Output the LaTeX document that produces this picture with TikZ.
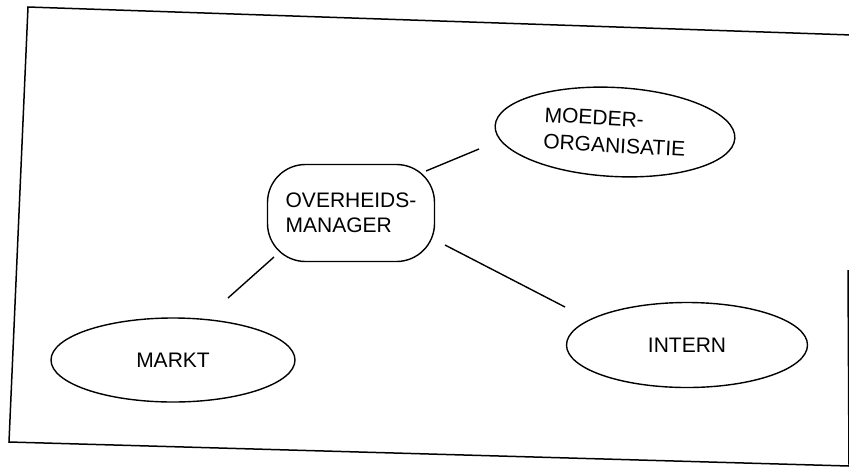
\documentclass[tikz,border=0pt]{standalone}
\usepackage{fontspec}
\setmainfont{Liberation Sans}
\usetikzlibrary{shapes.geometric}
\begin{document}
\begin{tikzpicture}[x=1pt,y=-1pt,
  line width=1.4pt,
  oval/.style={draw, ellipse, inner sep=0pt, align=left,
    font=\fontsize{21}{27}\selectfont},
  roundbox/.style={draw, rounded corners=38pt, inner sep=0pt, align=left,
    minimum width=167pt, minimum height=97pt,
    font=\fontsize{21}{25}\selectfont},
  frameline/.style={line width=1.5pt},
  link/.style={line width=1.4pt}]
\useasboundingbox (0,0) rectangle (849,467);

% slightly skewed outer frame
\coordinate (tl) at (28,7);
\coordinate (tr) at (852,35);
\coordinate (bl) at (9,442);
\coordinate (br) at (849,466);
\coordinate (rtop) at (848,270);
\draw[frameline] (tr) -- (tl) -- (bl) -- (br);
\draw[frameline] (rtop) -- (br);

% nodes
\node[roundbox] (mgr) at (351,213) {OVERHEIDS-\\MANAGER};
\node[oval, minimum width=240pt, minimum height=89pt, rotate=-3]
  (moeder) at (615,132) {MOEDER-\\ORGANISATIE};
\node[oval, minimum width=244pt, minimum height=84pt] (markt) at (173,360) {MARKT};
\node[oval, minimum width=241pt, minimum height=85pt] (intern) at (687,345) {INTERN};

% connector ends, kept clear of the nodes
\coordinate (m1) at (426,171);
\coordinate (m2) at (479,149);
\coordinate (k1) at (274,257);
\coordinate (k2) at (228,298);
\coordinate (i1) at (445,245);
\coordinate (i2) at (565,307);

\draw[link] (m1) -- (m2);
\draw[link] (k1) -- (k2);
\draw[link] (i1) -- (i2);
\end{tikzpicture}
\end{document}
